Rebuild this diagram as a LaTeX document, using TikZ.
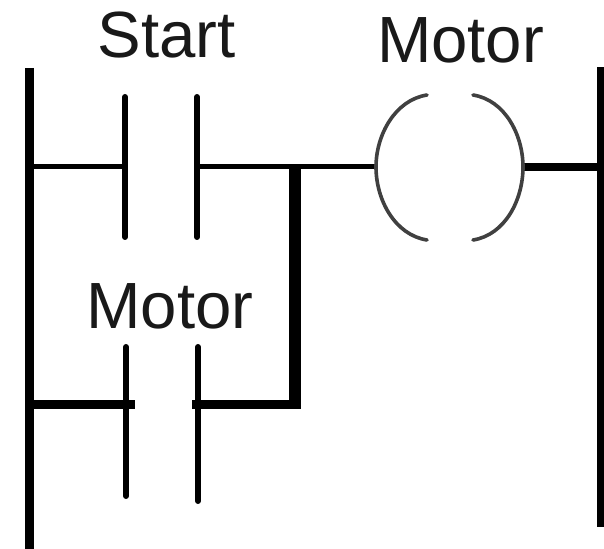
\documentclass[tikz,border=0pt]{standalone}
\usepackage{fontspec}
\setmainfont{Liberation Sans}
\tikzset{
  wire/.style={black,line cap=butt,line width=#1*0.75pt},
  contact/.style={black,line cap=round,line width=6*0.75pt},
  coilarc/.style={black!75,line cap=round,line width=3.6*0.75pt},
  label/.style={inner sep=0pt,anchor=base,text=black!90,font=\fontsize{49}{49}\selectfont}
}
\begin{document}
\begin{tikzpicture}[x=0.75pt,y=-0.75pt]
\useasboundingbox (0,0) rectangle (604,549);
\fill[white] (0,0) rectangle (604,549);
% rails
\coordinate (lt) at (29,68); \coordinate (lb) at (29,549);
\coordinate (rt) at (601,67); \coordinate (rb) at (601,527);
\draw[wire=9] (lt) -- (lb);
\draw[wire=8] (rt) -- (rb);
% contacts
\coordinate (c1t) at (125,97); \coordinate (c1b) at (125,237);
\coordinate (c2t) at (197,97); \coordinate (c2b) at (197,237);
\coordinate (c3t) at (126,347); \coordinate (c3b) at (126,496);
\coordinate (c4t) at (198,347); \coordinate (c4b) at (198,501);
\draw[contact] (c1t) -- (c1b);
\draw[contact] (c2t) -- (c2b);
\draw[contact] (c3t) -- (c3b);
\draw[contact] (c4t) -- (c4b);
% rung 1
\coordinate (l1) at (29,167); \coordinate (a1) at (125,167);
\coordinate (a2) at (197,167); \coordinate (j) at (295,167);
\coordinate (coilL) at (376,167); \coordinate (coilR) at (523,167);
\coordinate (r1) at (601,167);
\draw[wire=5] (l1) -- (a1);
\draw[wire=5] (a2) -- (coilL);
\draw[wire=8.5] (coilR) -- (r1);
% branch
\coordinate (l2) at (29,404); \coordinate (a3) at (135,404);
\coordinate (a4) at (192,404); \coordinate (k) at (301,404);
\draw[wire=9] (l2) -- (a3);
\draw[wire=9] (a4) -- (k);
\draw[wire=11.5] (j) -- (295,408.5);
% coil
\draw[coilarc] (427,95) .. controls (395,100) and (376,135) .. (coilL)
               .. controls (376,200) and (395,235) .. (427,240);
\draw[coilarc] (473,95) .. controls (505,100) and (523,135) .. (coilR)
               .. controls (523,200) and (505,235) .. (473,240);
% labels
\node[label] (start) at (166.5,58) {Start};
\node[label] (motor1) at (460.5,63) {Motor};
\node[label] (motor2) at (170,329) {Motor};
\end{tikzpicture}
\end{document}
